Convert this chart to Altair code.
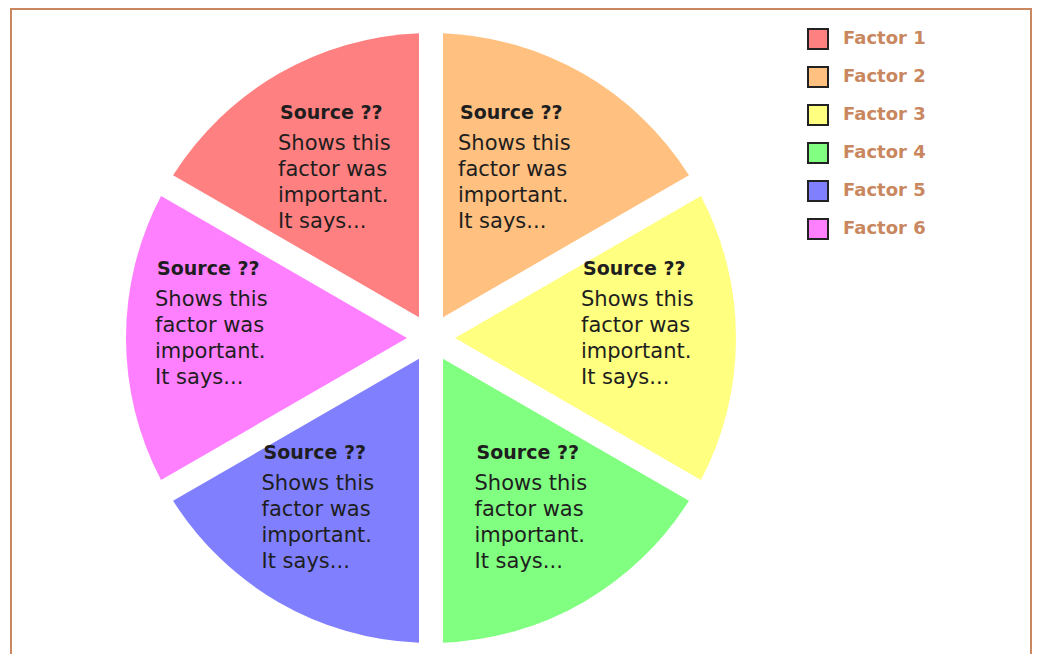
import math
import altair as alt
import pandas as pd

# ---- data ----
factors = ["Factor 1", "Factor 2", "Factor 3", "Factor 4", "Factor 5", "Factor 6"]
shares = [1, 1, 1, 1, 1, 1]
colours = ["#FF8080", "#FFC080", "#FFFF80", "#80FF80", "#8080FF", "#FF80FF"]
headings = ["Source ??"] * 6
notes = ["Shows this\nfactor was\nimportant.\nIt says..."] * 6

df = pd.DataFrame({"factor": factors, "share": shares, "heading": headings, "note": notes})

# ---- layout / style ----
W, H = 1020, 645
CX, CY = 420, 329
R = 305
GAP = 24
R_IN = GAP  # tip distance for parallel gaps between 60-degree slices
PAD = 2 * math.asin((GAP / 2) / math.sqrt(R ** 2 + R_IN ** 2))
FRAME = "#C98760"
INK = "#1E1E1E"
start = -math.pi / 3
theta_scale = alt.Scale(domain=[0, 6], range=[start, start + 2 * math.pi])
color_scale = alt.Scale(domain=factors, range=colours)

base = alt.Chart(df).transform_window(idx="row_number()").transform_calculate(mid="datum.idx - 0.5")

frame = alt.Chart(pd.DataFrame({"k": [0]})).mark_rect(
    fill="transparent", stroke=FRAME, strokeWidth=2
).encode(x=alt.value(0), x2=alt.value(W), y=alt.value(0), y2=alt.value(H + 200))

pie = base.mark_arc(outerRadius=R, innerRadius=R_IN, padAngle=PAD).encode(
    theta=alt.Theta("share:Q", stack=True, scale=theta_scale),
    order=alt.Order("idx:Q"),
    color=alt.Color(
        "factor:N",
        scale=color_scale,
        legend=alt.Legend(
            title=None,
            orient="none",
            legendX=796,
            legendY=19,
            symbolType="square",
            symbolSize=400,
            symbolStrokeColor="#222222",
            symbolStrokeWidth=2,
            labelFont="DejaVu Sans",
            labelFontSize=18,
            labelFontWeight="bold",
            labelColor=FRAME,
            labelOffset=14,
            rowPadding=10,
            padding=0,
        ),
    ),
    x=alt.value(CX),
    y=alt.value(CY),
)


def label_layers(cond, r):
    sub = base.transform_filter(cond)
    head = sub.mark_text(
        radius=r, dy=-69, dx=-61, font="DejaVu Sans", fontSize=19, fontWeight="bold",
        color=INK, align="left", baseline="middle",
    ).encode(
        theta=alt.Theta("mid:Q", scale=theta_scale),
        text="heading:N",
        x=alt.value(CX),
        y=alt.value(CY),
    )
    body = sub.mark_text(
        radius=r, dy=-38, dx=-63, lineBreak="\n", lineHeight=26, font="DejaVu Sans", fontSize=21,
        color=INK, align="left", baseline="middle",
    ).encode(
        theta=alt.Theta("mid:Q", scale=theta_scale),
        text="note:N",
        x=alt.value(CX),
        y=alt.value(CY),
    )
    return [head, body]


upper = label_layers("datum.idx <= 2", 180)
lower = label_layers("datum.idx > 2", 213)

chart = alt.layer(frame, pie, *upper, *lower).properties(
    width=W,
    height=H,
    padding={"left": 3, "top": 1, "right": 1, "bottom": 0},
    autosize=alt.AutoSizeParams(type="none"),
    background="white",
).configure_view(strokeWidth=0)

chart.save("out.html", embed_options={"renderer": "svg", "actions": False})
